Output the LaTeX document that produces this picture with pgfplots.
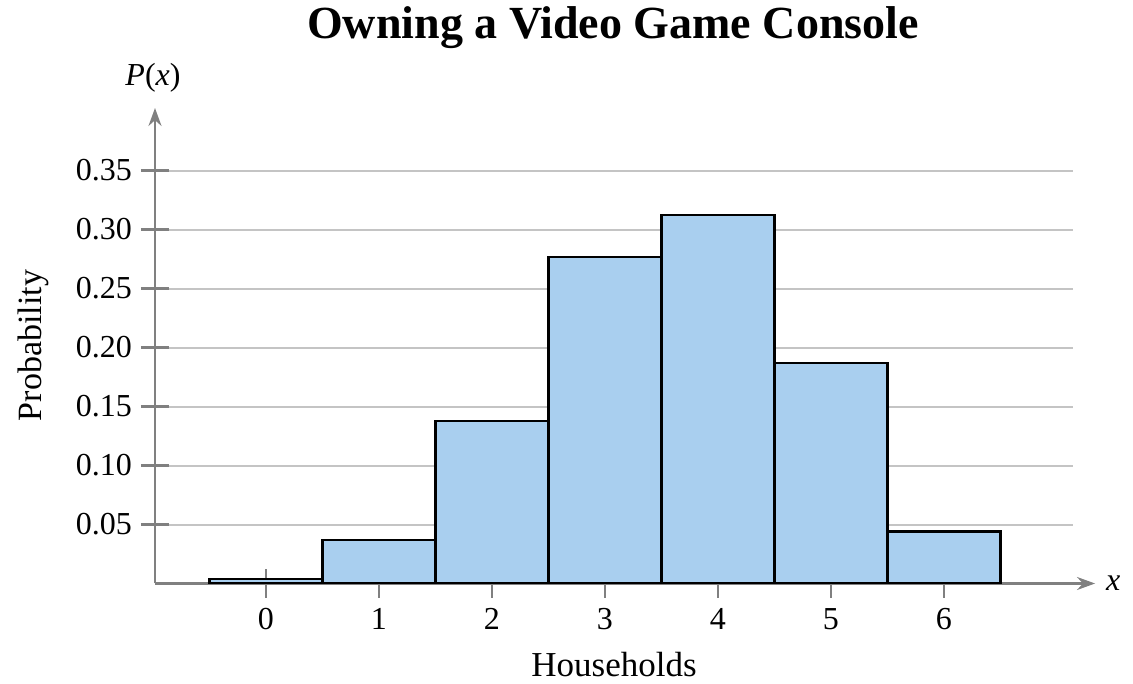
\documentclass[border=0pt]{standalone}
\usepackage{fontspec}
\setmainfont{Liberation Serif}
\usepackage{pgfplots}
\pgfplotsset{compat=1.18}
\usetikzlibrary{arrows.meta}

\definecolor{barblue}{HTML}{A9CFEF}
\definecolor{axgray}{HTML}{808080}
\definecolor{gridgray}{HTML}{C4C4C4}

\begin{document}
\begin{tikzpicture}
\begin{axis}[
    scale only axis,
    width=459pt,
    height=237.75pt,
    xmin=-0.982, xmax=7.142,
    ymin=0, ymax=0.403,
    axis lines=left,
    axis line style={axgray, line width=1.1pt},
    x axis line style={-{Stealth[length=9pt,width=6.5pt]}, shorten >=-11pt},
    y axis line style={-{Stealth[length=9pt,width=6.5pt]}},
    xtick={0,1,2,3,4,5,6},
    ytick={0.05,0.10,0.15,0.20,0.25,0.30,0.35},
    ymajorgrids,
    major grid style={gridgray, line width=1pt},
    tick align=center,
    major tick length=14pt,
    tick style={axgray, line width=1.1pt},
    /pgf/number format/assume math mode=true,
    yticklabel={\pgfmathprintnumber[fixed, fixed zerofill, precision=2]{\tick}},
    tick label style={font=\fontsize{16}{19}\selectfont},
    xticklabel style={yshift=-2pt},
    yticklabel style={xshift=-1pt},
]
\addplot[ybar, bar width=1, fill=barblue, draw=black, line width=1.1pt]
    coordinates {(0,0.004) (1,0.037) (2,0.138) (3,0.277) (4,0.312) (5,0.187) (6,0.044)};
\end{axis}
\node[font=\bfseries\fontsize{23}{27}\selectfont] at (229pt,277.75pt) {Owning a Video Game Console};
\node[font=\fontsize{16}{19}\selectfont] at (-1pt,252.75pt) {\textit{P}(\textit{x})};
\node[font=\fontsize{16}{19}\selectfont, anchor=west] at (472pt,0pt) {\textit{x}};
\node[font=\fontsize{17}{20}\selectfont, rotate=90] at (-61pt,119pt) {Probability};
\node[font=\fontsize{17.5}{20}\selectfont] at (229.5pt,-40.75pt) {Households};
\path[use as bounding box] (-77.5pt,-50.25pt) rectangle (489pt,291.75pt);
\end{tikzpicture}
\end{document}
